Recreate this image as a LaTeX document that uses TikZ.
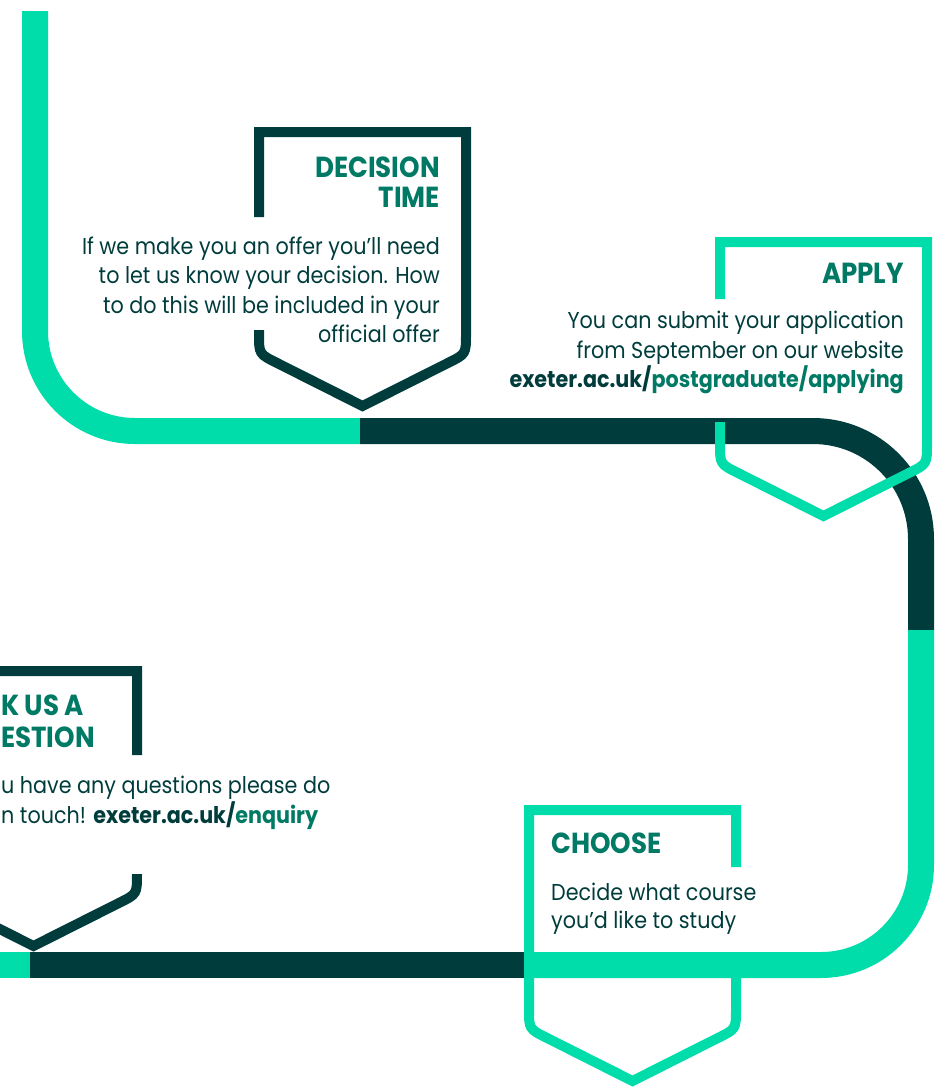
\documentclass[tikz,border=0pt]{standalone}
\usepackage{fontspec}
\setmainfont{Poppins}[FakeStretch=0.9]
\definecolor{brightgreen}{HTML}{00DDAA}
\definecolor{darkteal}{HTML}{003C3C}
\definecolor{titleteal}{HTML}{007A64}
\tikzset{
  track/.style={line width=26pt, line cap=butt},
  shieldline/.style={line width=10pt, line join=miter},
  body/.style={inner sep=0pt, text=darkteal, font=\fontsize{23}{27}\selectfont},
  ttl/.style={inner sep=0pt, text=titleteal, font=\fontsize{29}{33}\selectfont\bfseries},
}
\newcommand{\lnk}[1]{\textcolor{titleteal}{\bfseries #1}}
\begin{document}
\begin{tikzpicture}[x=1pt,y=-1pt]
\useasboundingbox (0,0) rectangle (949,1088);
% track
\draw[track, brightgreen, rounded corners=100pt] (35,11) -- (35,431) -- (360,431);
\draw[track, darkteal, rounded corners=108pt] (360,431) -- (921,431) -- (921,630);
\draw[track, brightgreen, rounded corners=100pt] (921,630) -- (921,965) -- (524,965);
\draw[track, darkteal] (524,965) -- (30,965);
\draw[track, brightgreen] (30,965) -- (-5,965);
% shields
\draw[shieldline, darkteal] (259,217) -- (259,132) -- (466,132) -- (466,334) .. controls (466,354) .. (448.1,362.9) -- (362.5,406) -- (276.9,362.9) .. controls (259,354) .. (259,334) -- (259,330);
\draw[shieldline, brightgreen] (720,299) -- (720,242) -- (927,242) -- (927,444) .. controls (927,464) .. (909.1,472.9) -- (823.5,516) -- (737.9,472.9) .. controls (720,464) .. (720,444) -- (720,422);
\draw[shieldline, darkteal] (137,755) -- (137,671) -- (-70,671) -- (-70,874) .. controls (-70,894) .. (-52.1,902.9) -- (33.5,946) -- (119.1,902.9) .. controls (137,894) .. (137,874);
\draw[shieldline, brightgreen] (736,867) -- (736,810) -- (529,810) -- (529,1009) .. controls (529,1029) .. (546.9,1037.9) -- (632.5,1081) -- (718.1,1037.9) .. controls (736,1029) .. (736,1009) -- (736,978);
% decision
\node[ttl, anchor=base east] (dt1) at (440,177) {DECISION};
\node[ttl, anchor=base east] (dt2) at (440,207) {TIME};
\node[body, anchor=base east] (db1) at (440,254) {If we make you an offer you’ll need};
\node[body, anchor=base east] (db2) at (440,283.5) {to let us know your decision. How};
\node[body, anchor=base east] (db3) at (440,313) {to do this will be included in your};
\node[body, anchor=base east] (db4) at (440,342) {official offer};
% apply
\node[ttl, anchor=base east] (at1) at (904,283) {APPLY};
\node[body, anchor=base east] (ab1) at (904,328) {You can submit your application};
\node[body, anchor=base east] (ab2) at (904,358) {from September on our website};
\node[body, anchor=base east] (ab3) at (904,387) {\bfseries exeter.ac.uk/\lnk{postgraduate/applying}};
% ask
\node[ttl, anchor=base west] (qt1) at (1,715) {K US A};
\node[ttl, anchor=base west] (qt2) at (1,747) {ESTION};
\node[body, anchor=base west] (qb1) at (1,793) {u have any questions please do};
\node[body, anchor=base west] (qb2) at (1,823) {n touch! {\bfseries exeter.ac.uk/}\lnk{enquiry}};
% choose
\node[ttl, anchor=base west] (ct1) at (551,853) {CHOOSE};
\node[body, anchor=base west] (cb1) at (551,900) {Decide what course};
\node[body, anchor=base west] (cb2) at (551,928) {you’d like to study};
\end{tikzpicture}
\end{document}
